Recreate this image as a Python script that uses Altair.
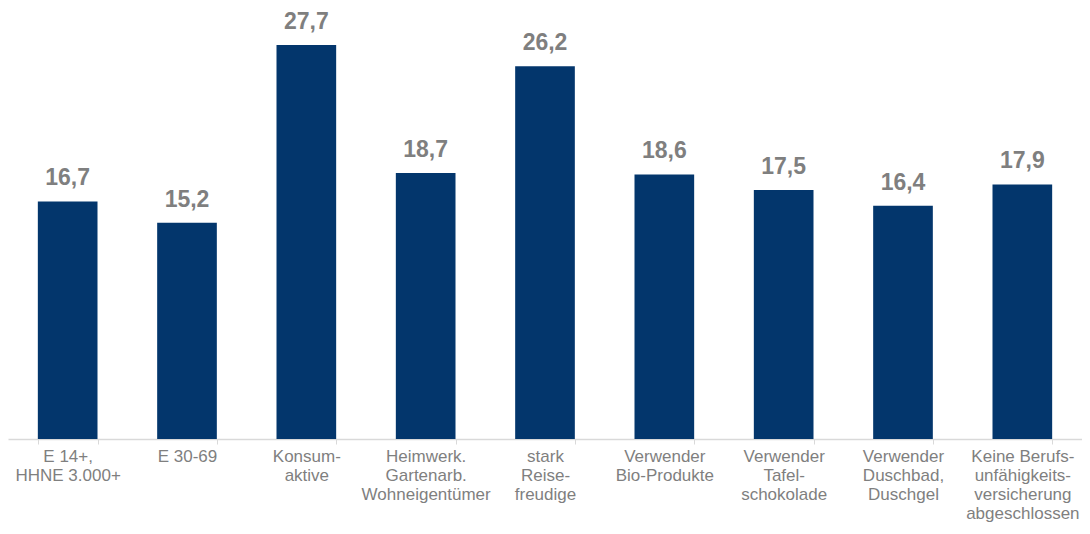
import altair as alt
import pandas as pd

categories = [
    "E 14+,\nHHNE 3.000+",
    "E 30-69",
    "Konsum-\naktive",
    "Heimwerk.\nGartenarb.\nWohneigentümer",
    "stark\nReise-\nfreudige",
    "Verwender\nBio-Produkte",
    "Verwender\nTafel-\nschokolade",
    "Verwender\nDuschbad,\nDuschgel",
    "Keine Berufs-\nunfähigkeits-\nversicherung\nabgeschlossen",
]
values = [16.7, 15.2, 27.7, 18.7, 26.2, 18.6, 17.5, 16.4, 17.9]
value_labels = ["16,7", "15,2", "27,7", "18,7", "26,2", "18,6", "17,5", "16,4", "17,9"]

df = pd.DataFrame({"cat": categories, "val": values, "lab": value_labels})

FONT = "Liberation Sans"

x = alt.X(
    "cat:N",
    sort=categories,
    title=None,
    scale=alt.Scale(paddingInner=0.5, paddingOuter=0.25),
    axis=alt.Axis(
        labelAngle=0,
        labelExpr="split(datum.label, '\\n')",
        labelFont=FONT,
        labelFontSize=17,
        labelColor="#7f7f7f",
        labelLineHeight=19,
        labelPadding=4,
        labelBaseline="top",
        tickBand="extent",
        tickSize=5,
        tickColor="#d9d9d9",
        domainColor="#d9d9d9",
        domainWidth=1.5,
        labelOverlap=False,
        labelBound=False,
    ),
)
y = alt.Y(
    "val:Q",
    title=None,
    scale=alt.Scale(domain=[0, 30.3], nice=False),
    axis=None,
)

bars = alt.Chart(df).mark_bar(color="#03366c").encode(x=x, y=y)
texts = alt.Chart(df).mark_text(
    font=FONT, fontSize=23, fontWeight="bold", color="#7f7f7f",
    baseline="alphabetic", dy=-16,
).encode(x=x, y=y, text="lab:N")

chart = (
    alt.layer(bars, texts)
    .properties(
        width=1074,
        height=431,
        padding={"left": 0, "right": 0, "top": 0, "bottom": 87},
        autosize=alt.AutoSizeParams(type="none"),
        view=alt.ViewBackground(stroke="transparent", strokeWidth=0),
    )
    .configure_view(strokeWidth=0, stroke="transparent")
    .configure(background="white")
)

chart.save("out.html", embed_options={"renderer": "svg", "actions": False})
